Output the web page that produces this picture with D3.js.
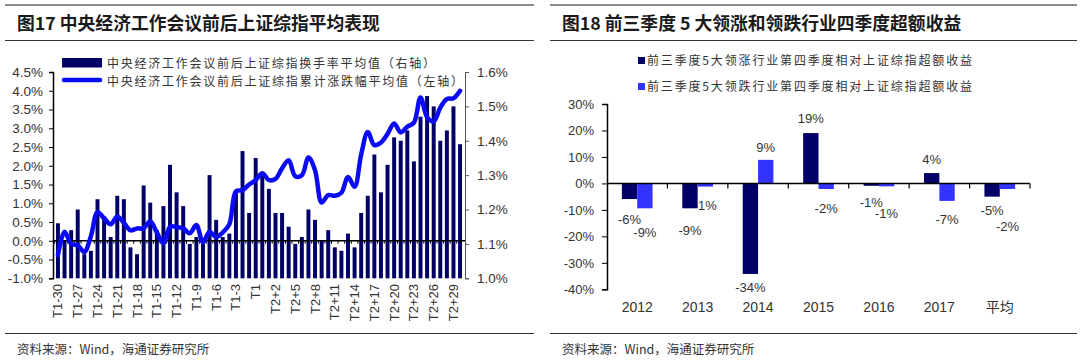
<!DOCTYPE html>
<html>
<head>
<meta charset="utf-8">
<script src="https://cdn.jsdelivr.net/npm/d3@7"></script>
<style>
  body { margin: 0; background: #fff; }
  svg { display: block; }
  text { font-family: "Liberation Sans", Arial, "Noto Sans CJK SC", sans-serif; }
  .cjk { font-family: "Noto Sans CJK SC", sans-serif; }
</style>
</head>
<body>
<div id="chart"></div>
<script>
// ---- left chart data (图17) ----
var days = ["T1-30","T1-29","T1-28","T1-27","T1-26","T1-25","T1-24","T1-23","T1-22","T1-21",
    "T1-20","T1-19","T1-18","T1-17","T1-16","T1-15","T1-14","T1-13","T1-12","T1-11",
    "T1-10","T1-9","T1-8","T1-7","T1-6","T1-5","T1-4","T1-3","T1-2","T1-1",
    "T1","T2","T2+1","T2+2","T2+3","T2+4","T2+5","T2+6","T2+7","T2+8",
    "T2+9","T2+10","T2+11","T2+12","T2+13","T2+14","T2+15","T2+16","T2+17","T2+18",
    "T2+19","T2+20","T2+21","T2+22","T2+23","T2+24","T2+25","T2+26","T2+27","T2+28",
    "T2+29","T2+30"];
// 换手率平均值 (右轴, %)
var turnover = [1.16,1.11,1.14,1.20,1.07,1.08,1.23,1.18,1.12,1.24,
    1.23,1.09,1.07,1.27,1.22,1.14,1.21,1.33,1.25,1.21,
    1.10,1.12,1.10,1.30,1.17,1.12,1.13,1.25,1.37,1.19,
    1.35,1.30,1.26,1.19,1.19,1.15,1.10,1.12,1.20,1.17,
    1.11,1.14,1.09,1.08,1.13,1.09,1.19,1.24,1.36,1.25,
    1.33,1.41,1.40,1.43,1.34,1.47,1.53,1.50,1.40,1.43,
    1.50,1.39];
// 累计涨跌幅平均值 (左轴, %)
var cumReturn = [-0.38,0.24,-0.08,-0.12,-0.30,0.12,0.76,0.60,0.44,0.65,
    0.48,0.28,0.33,0.33,0.52,0.22,-0.06,0.37,0.37,0.33,
    0.20,0.42,-0.04,0.24,0.10,0.22,0.44,1.32,1.35,1.50,
    1.62,1.80,1.62,1.65,1.93,2.15,1.72,1.75,2.22,1.88,
    1.02,1.22,1.20,1.28,1.70,1.44,2.30,2.90,2.55,2.62,
    2.85,3.13,2.89,3.04,3.15,3.82,3.30,3.18,3.55,3.78,
    3.80,4.00];
var leftTicks = [-1.0,-0.5,0.0,0.5,1.0,1.5,2.0,2.5,3.0,3.5,4.0,4.5];
var rightTicks = [1.0,1.1,1.2,1.3,1.4,1.5,1.6];
var leftLegend = ["中央经济工作会议前后上证综指换手率平均值（右轴）",
    "中央经济工作会议前后上证综指累计涨跌幅平均值（左轴）"];

// ---- right chart data (图18) ----
var years = ["2012","2013","2014","2015","2016","2017","平均"];
var leaders = [-5.9,-9.4,-34.2,19.0,-0.9,3.9,-5.0];
var laggards = [-9.4,-1.2,8.9,-2.1,-1.1,-6.6,-2.1];
var pctTicks = [-40,-30,-20,-10,0,10,20,30];
var rightLegend = ["前三季度5大领涨行业第四季度相对上证综指超额收益",
    "前三季度5大领跌行业第四季度相对上证综指超额收益"];

var navy = "#000066", blue = "#3333ff", lineBlue = "#0a0af5";

var svg = d3.select("#chart").append("svg")
    .attr("width", 1080).attr("height", 362);

// frame lines, titles, sources
function panelFrame(x0, x1, title, titleX) {
    svg.append("line").attr("x1", x0).attr("x2", x1).attr("y1", 5).attr("y2", 5)
        .style("stroke", "#8c8c8c").style("stroke-width", 2);
    svg.append("line").attr("x1", x0).attr("x2", x1).attr("y1", 40.5).attr("y2", 40.5)
        .style("stroke", "#333").style("stroke-width", 1);
    svg.append("line").attr("x1", x0).attr("x2", x1).attr("y1", 333.5).attr("y2", 333.5)
        .style("stroke", "#333").style("stroke-width", 1);
    svg.append("text").attr("class", "cjk").attr("x", titleX).attr("y", 29.5)
        .style("font-size", "17.8px").style("font-weight", "bold").style("fill", "#1a1a1a")
        .text(title);
    svg.append("text").attr("class", "cjk").attr("x", titleX).attr("y", 354)
        .style("font-size", "12.5px").style("fill", "#333")
        .text("资料来源：Wind，海通证券研究所");
}
panelFrame(5, 534, "图17 中央经济工作会议前后上证综指平均表现", 17);
panelFrame(550, 1077, "图18 前三季度 5 大领涨和领跌行业四季度超额收益", 562);

// ================= left chart =================
var x = d3.scaleBand().domain(days).range([53, 465]).paddingInner(0.4).paddingOuter(0.45);
var yL = d3.scaleLinear().domain([-1, 4.5]).range([278.3, 72]);
var yR = d3.scaleLinear().domain([1.0, 1.6]).range([278.3, 72]);

var gL = svg.append("g");

gL.selectAll(".bar")
    .data(turnover)
    .join("rect")
    .attr("class", "bar")
    .attr("x", (d, i) => x(days[i]))
    .attr("width", x.bandwidth())
    .attr("y", d => yR(d))
    .attr("height", d => yR(1.0) - yR(d))
    .style("fill", navy);

// zero line with small category ticks
var zeroAxis = d3.axisBottom(x).tickSize(3).tickFormat("");
gL.append("g")
    .attr("transform", "translate(0," + yL(0) + ")")
    .call(zeroAxis)
    .call(g => g.selectAll(".tick").attr("transform", d => "translate(" + (x(d) - x.step() * x.paddingInner() / 2) + ",0)"))
    .call(g => g.select(".domain").attr("d", "M53,0H465").style("stroke", "#000").style("stroke-width", 1.5))
    .call(g => g.selectAll(".tick line").style("stroke", "#000"));

var line = d3.line()
    .x((d, i) => x(days[i]) + x.bandwidth() / 2)
    .y(d => yL(d))
    .curve(d3.curveCatmullRom.alpha(0.5));

gL.append("path")
    .datum(cumReturn)
    .attr("d", line)
    .style("fill", "none")
    .style("stroke", lineBlue)
    .style("stroke-width", 4.5)
    .style("stroke-linejoin", "round")
    .style("stroke-linecap", "round");

// left axis
gL.append("g")
    .attr("transform", "translate(53,0)")
    .call(d3.axisLeft(yL).tickValues(leftTicks).tickSize(4).tickPadding(6)
        .tickFormat(d => d.toFixed(1) + "%"))
    .call(g => g.select(".domain").style("stroke", "#000").style("stroke-width", 1.5))
    .call(g => g.selectAll("text").style("font-size", "13.5px").style("fill", "#333")
        .style("font-family", "'Liberation Sans', Arial, sans-serif"));

// right axis
gL.append("g")
    .attr("transform", "translate(465,0)")
    .call(d3.axisRight(yR).tickValues(rightTicks).tickSize(4).tickPadding(8)
        .tickFormat(d => d.toFixed(1) + "%"))
    .call(g => g.select(".domain").style("stroke", "#555"))
    .call(g => g.selectAll(".tick line").style("stroke", "#555"))
    .call(g => g.selectAll("text").style("font-size", "13.5px").style("fill", "#333")
        .style("font-family", "'Liberation Sans', Arial, sans-serif"));

// x labels (every third day), rotated
gL.selectAll(".xlab")
    .data(days.filter((d, i) => i % 3 === 0))
    .join("text")
    .attr("class", "xlab")
    .attr("transform", d => "translate(" + (x(d) + x.bandwidth() / 2 + 4.5) + ",284) rotate(-90)")
    .attr("text-anchor", "end")
    .style("font-size", "13px")
    .style("fill", "#333")
    .text(d => d);

// legend
gL.append("rect").attr("x", 62).attr("y", 58).attr("width", 40).attr("height", 9.5).style("fill", navy);
gL.append("line").attr("x1", 64).attr("x2", 100).attr("y1", 80).attr("y2", 80)
    .style("stroke", lineBlue).style("stroke-width", 4.5).style("stroke-linecap", "round");
gL.selectAll(".leg")
    .data(leftLegend)
    .join("text")
    .attr("class", "leg cjk")
    .attr("x", 107)
    .attr("y", (d, i) => 67.5 + i * 18)
    .attr("textLength", (d, i) => i === 0 ? 328 : 356)
    .attr("lengthAdjust", "spacing")
    .style("font-size", "12px")
    .style("fill", "#333")
    .text(d => d);

// ================= right chart =================
var x0 = d3.scaleBand().domain(years).range([607, 1030]).padding(0);
var x1 = d3.scaleBand().domain(["lead", "lag"]).range([0, x0.bandwidth()]).paddingInner(0).paddingOuter(0.97);
var y2 = d3.scaleLinear().domain([-40, 30]).range([289.3, 104]);

var gR = svg.append("g");
var series = [
    { key: "lead", values: leaders, color: navy, gap: [20, 22, 14, 15, 17, 14, 14] },
    { key: "lag", values: laggards, color: blue, gap: [24, 19, 12, 19, 27, 19, 37] }
];

// labels first (the bars cover them where they overlap, as in the source)
series.slice().reverse().forEach(function (s) {
    gR.selectAll(".lab-" + s.key)
        .data(s.values)
        .join("text")
        .attr("class", "lab-" + s.key)
        .attr("x", (d, i) => x0(years[i]) + x1(s.key) + x1.bandwidth() / 2)
        .attr("y", (d, i) => y2(d) + (d >= 0 ? -s.gap[i] : s.gap[i]))
        .attr("dy", "0.35em")
        .attr("text-anchor", "middle")
        .style("font-size", "13px")
        .style("fill", "#333")
        .text(d => Math.round(d) + "%");
});

series.forEach(function (s) {
    gR.selectAll(".bar-" + s.key)
        .data(s.values)
        .join("rect")
        .attr("class", "bar-" + s.key)
        .attr("x", (d, i) => x0(years[i]) + x1(s.key))
        .attr("width", x1.bandwidth())
        .attr("y", d => y2(Math.max(0, d)))
        .attr("height", d => Math.abs(y2(d) - y2(0)))
        .style("fill", s.color);
});

gR.append("g")
    .attr("transform", "translate(607,0)")
    .call(d3.axisLeft(y2).tickValues(pctTicks).tickSize(5).tickPadding(8).tickFormat(d => d + "%"))
    .call(g => g.select(".domain").style("stroke", "#000").style("stroke-width", 1.5))
    .call(g => g.selectAll("text").style("font-size", "13px").style("fill", "#333")
        .style("font-family", "'Liberation Sans', Arial, sans-serif"));

// x axis along 0% with ticks at band edges
var edges = years.map(d => x0(d) + x0.bandwidth());
gR.append("line").attr("x1", 607).attr("x2", 1030).attr("y1", y2(0)).attr("y2", y2(0))
    .style("stroke", "#000").style("stroke-width", 1.5);
gR.selectAll(".xtick")
    .data(edges)
    .join("line")
    .attr("class", "xtick")
    .attr("x1", d => d).attr("x2", d => d)
    .attr("y1", y2(0)).attr("y2", y2(0) + 5)
    .style("stroke", "#000").style("stroke-width", 1.2);

gR.selectAll(".ylab")
    .data(years)
    .join("text")
    .attr("class", "ylab")
    .attr("x", d => x0(d) + x0.bandwidth() / 2)
    .attr("y", 312)
    .attr("text-anchor", "middle")
    .style("font-size", "14px")
    .style("fill", "#333")
    .style("font-family", (d, i) => i === 6 ? "'Noto Sans CJK SC', sans-serif" : "'Liberation Sans', Arial, sans-serif")
    .text(d => d);

// legend
gR.selectAll(".lsq")
    .data([navy, blue])
    .join("rect")
    .attr("class", "lsq")
    .attr("x", 638).attr("y", (d, i) => 57 + i * 26)
    .attr("width", 7).attr("height", 7)
    .style("fill", d => d);
gR.selectAll(".leg2")
    .data(rightLegend)
    .join("text")
    .attr("class", "leg2 cjk")
    .attr("x", 647)
    .attr("y", (d, i) => 65 + i * 26)
    .attr("textLength", 325)
    .attr("lengthAdjust", "spacing")
    .style("font-size", "12px")
    .style("fill", "#333")
    .text(d => d);
</script>
</body>
</html>
